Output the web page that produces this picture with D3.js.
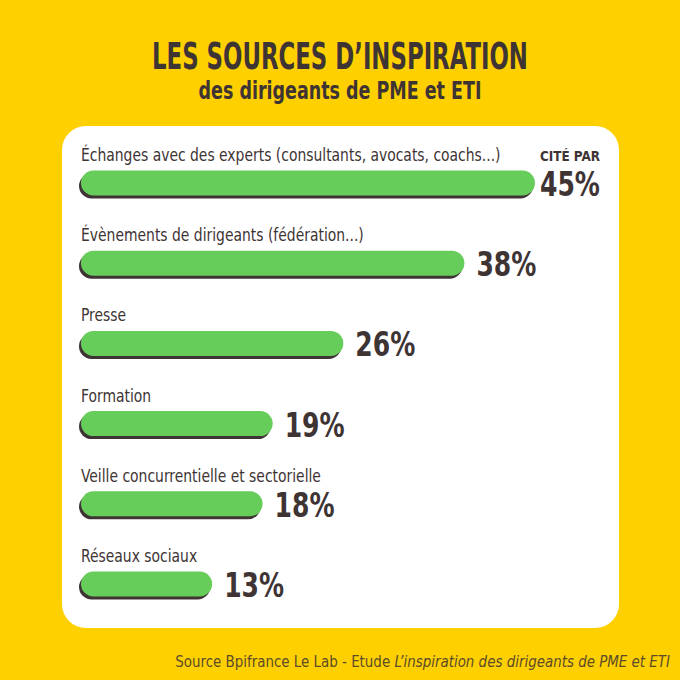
<!DOCTYPE html>
<html>
<head>
<meta charset="utf-8">
<script src="https://cdn.jsdelivr.net/npm/d3@7"></script>
<style>
  body { margin: 0; background: #ffd000; }
  svg text { font-family: 'Liberation Sans Narrow', 'DejaVu Sans Condensed', 'Roboto', sans-serif; }
</style>
</head>
<body>
<div id="chart"></div>
<script>
const categories = [
  'Échanges avec des experts (consultants, avocats, coachs...)',
  'Évènements de dirigeants (fédération...)',
  'Presse',
  'Formation',
  'Veille concurrentielle et sectorielle',
  'Réseaux sociaux'
]
const values = [45, 38, 26, 19, 18, 13]

const title = 'LES SOURCES D’INSPIRATION'
const subtitle = 'des dirigeants de PME et ETI'

const yellow = '#ffd000'
const green = '#66cc5a'
const dark = '#3e3434'

const width = 680, height = 680
const barH = 25

const svg = d3.select('#chart')
  .append('svg')
  .attr('width', width)
  .attr('height', height)

svg.append('rect')
  .attr('width', width)
  .attr('height', height)
  .attr('fill', yellow)

svg.append('rect')
  .attr('x', 62)
  .attr('y', 126)
  .attr('width', 557)
  .attr('height', 502)
  .attr('rx', 24)
  .attr('fill', '#fff')

// squeeze a text horizontally: the reference font is narrower than ours.
// text is drawn at 0,0 then moved, so the squeeze stays around its anchor
const squeeze = (sel, x, y, k) => {
  sel.each(function (d, i) {
    const px = typeof x === 'function' ? x(d, i) : x
    const py = typeof y === 'function' ? y(d, i) : y
    const kk = typeof k === 'function' ? k.call(this, d, i) : k
    d3.select(this)
      .attr('x', 0).attr('y', 0)
      .attr('transform', `translate(${px},${py}) scale(${kk},1)`)
  })
}
const toWidth = w => function () { return w / this.getComputedTextLength() }

svg.append('text')
  .attr('text-anchor', 'middle')
  .attr('font-size', 37)
  .attr('font-weight', 'bold')
  .attr('fill', dark)
  .text(title)
  .call(squeeze, 340, 69, toWidth(376))

svg.append('text')
  .attr('text-anchor', 'middle')
  .attr('font-size', 24)
  .attr('font-weight', 'bold')
  .attr('fill', dark)
  .text(subtitle)
  .call(squeeze, 340, 99, toWidth(283))

const x = d3.scaleLinear().domain([0, 45]).range([81, 535])
const y = d3.scalePoint().domain(categories).range([183, 584])

const rows = svg.selectAll('g.row')
  .data(categories.map((c, i) => ({ name: c, value: values[i] })))
  .enter()
  .append('g')
  .classed('row', true)

rows.append('rect')
  .attr('x', x(0) - 2)
  .attr('y', d => y(d.name) - barH / 2 + 3)
  .attr('width', d => x(d.value) - x(0))
  .attr('height', barH)
  .attr('rx', barH / 2)
  .attr('fill', dark)

rows.append('rect')
  .attr('x', x(0))
  .attr('y', d => y(d.name) - barH / 2)
  .attr('width', d => x(d.value) - x(0))
  .attr('height', barH)
  .attr('rx', barH / 2)
  .attr('fill', green)

rows.append('text')
  .attr('font-size', 18)
  .attr('fill', dark)
  .text(d => d.name)
  .call(squeeze, x(0), d => y(d.name) - 22, 0.86)

rows.append('text')
  .attr('font-size', 33)
  .attr('font-weight', 'bold')
  .attr('fill', dark)
  .text(d => d.value + '%')
  .call(squeeze, (d, i) => x(d.value) + (i === 0 ? 5 : 12), d => y(d.name) + 13, toWidth(60))

svg.append('text')
  .attr('font-size', 14)
  .attr('font-weight', 'bold')
  .attr('fill', dark)
  .text('CITÉ PAR')
  .call(squeeze, x(values[0]) + 5, y(categories[0]) - 22, toWidth(60))

const src = svg.append('text')
  .attr('text-anchor', 'end')
  .attr('font-size', 15)
  .attr('fill', '#5b4b2a')

src.append('tspan').text('Source Bpifrance Le Lab - Etude ')
src.append('tspan').attr('font-style', 'italic').text('L’inspiration des dirigeants de PME et ETI')
src.call(squeeze, 670, 667, toWidth(495))
</script>
</body>
</html>
